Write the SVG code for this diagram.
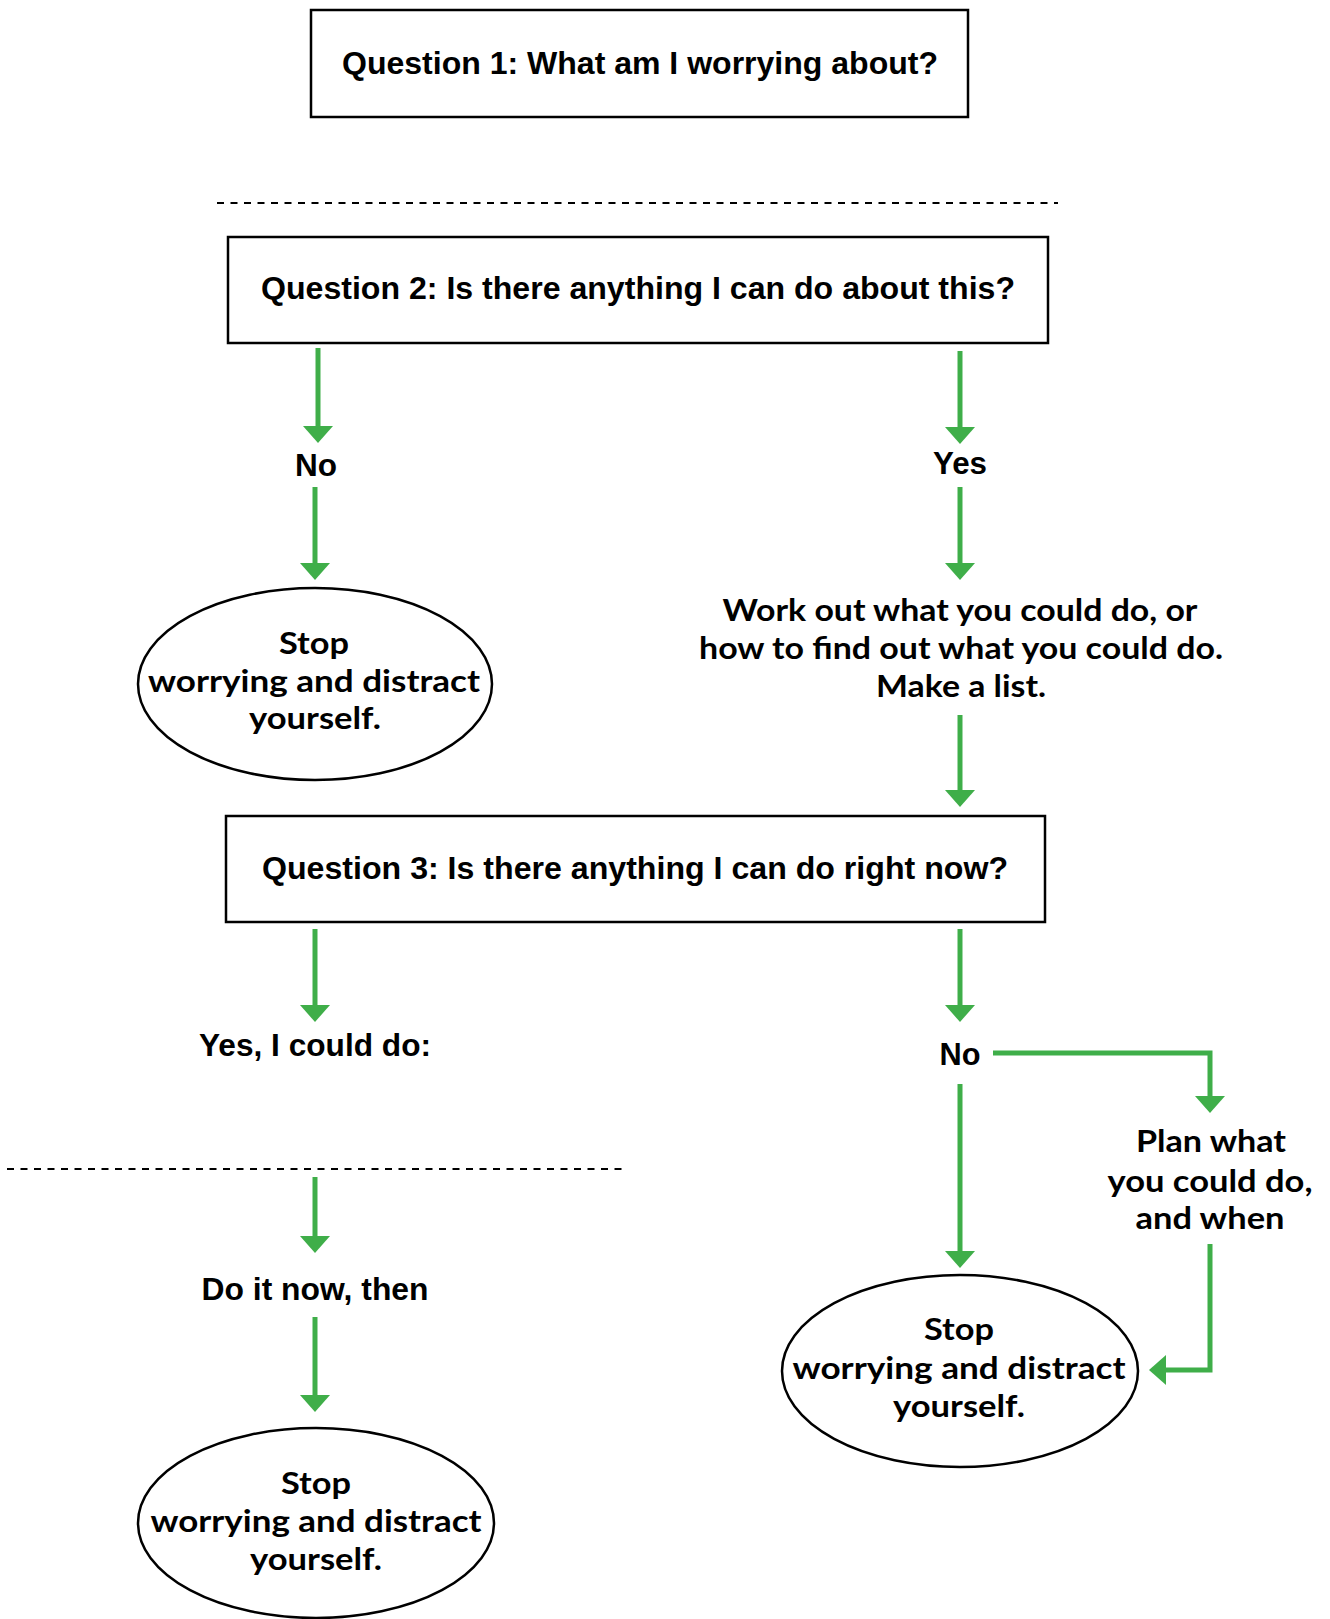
<svg xmlns="http://www.w3.org/2000/svg" width="1330" height="1619" viewBox="0 0 1330 1619">
<defs>
<marker id="ah" viewBox="0 0 17 30" refX="5" refY="15" markerWidth="17" markerHeight="30" orient="auto" markerUnits="userSpaceOnUse">
<path d="M0,0 L17,15 L0,30 z" fill="#3fae49"/>
</marker>
<style>
.box{fill:#fff;stroke:#000;stroke-width:2.5}
.ell{fill:#fff;stroke:#000;stroke-width:2.5}
.dash{stroke:#000;stroke-width:2;stroke-dasharray:7 6.5;fill:none}
.arr{stroke:#3fae49;stroke-width:5;fill:none;marker-end:url(#ah)}
.n{font-family:"Liberation Sans",Arial,sans-serif;font-weight:bold;font-size:32px;fill:#000;text-anchor:middle}
.g{font-family:Lato,"Open Sans",sans-serif;font-weight:bold;font-size:30px;fill:#000;text-anchor:middle}
</style>
</defs>
<rect width="1330" height="1619" fill="#fff"/>
<g id="dividers">
<line class="dash" x1="217" y1="203" x2="1058" y2="203"/>
<line class="dash" x1="7" y1="1169" x2="625" y2="1169"/>
</g>
<g id="connectors">
<path class="arr" d="M318,348 V431"/>
<path class="arr" d="M315,487 V568"/>
<path class="arr" d="M960,351 V432"/>
<path class="arr" d="M960,487 V568"/>
<path class="arr" d="M960,715 V795"/>
<path class="arr" d="M315,929 V1010"/>
<path class="arr" d="M960,929 V1010"/>
<path class="arr" d="M993,1053 H1210 V1101"/>
<path class="arr" d="M960,1084 V1256"/>
<path class="arr" d="M1210,1244 V1370 H1161"/>
<path class="arr" d="M315,1177 V1241"/>
<path class="arr" d="M315,1317 V1400"/>
</g>
<g id="q1">
<rect class="box" x="311" y="10" width="657" height="107"/>
<text class="n" x="640" y="74" textLength="596" lengthAdjust="spacingAndGlyphs">Question 1: What am I worrying about?</text>
</g>
<g id="q2">
<rect class="box" x="228" y="237" width="820" height="106"/>
<text class="n" x="638" y="299" textLength="754" lengthAdjust="spacingAndGlyphs">Question 2: Is there anything I can do about this?</text>
</g>
<g id="no1">
<text class="n" x="316" y="476" textLength="42" lengthAdjust="spacingAndGlyphs">No</text>
</g>
<g id="yes1">
<text class="n" x="960" y="474" textLength="54" lengthAdjust="spacingAndGlyphs">Yes</text>
</g>
<g id="stop1">
<ellipse class="ell" cx="315" cy="684" rx="177" ry="96"/>
<text class="g" x="314" y="654" textLength="70" lengthAdjust="spacingAndGlyphs">Stop</text>
<text class="g" x="314" y="692" textLength="332" lengthAdjust="spacingAndGlyphs">worrying and distract</text>
<text class="g" x="315" y="729" textLength="132" lengthAdjust="spacingAndGlyphs">yourself.</text>
</g>
<g id="workout">
<text class="g" x="960" y="621" textLength="475" lengthAdjust="spacingAndGlyphs">Work out what you could do, or</text>
<text class="g" x="961" y="659" textLength="524" lengthAdjust="spacingAndGlyphs">how to find out what you could do.</text>
<text class="g" x="961" y="697" textLength="170" lengthAdjust="spacingAndGlyphs">Make a list.</text>
</g>
<g id="q3">
<rect class="box" x="226" y="816" width="819" height="106"/>
<text class="n" x="635" y="879" textLength="746" lengthAdjust="spacingAndGlyphs">Question 3: Is there anything I can do right now?</text>
</g>
<g id="yes2">
<text class="n" x="315" y="1056" textLength="232" lengthAdjust="spacingAndGlyphs">Yes, I could do:</text>
</g>
<g id="no2">
<text class="n" x="960" y="1065" textLength="41" lengthAdjust="spacingAndGlyphs">No</text>
</g>
<g id="plan">
<text class="g" x="1211" y="1152" textLength="150" lengthAdjust="spacingAndGlyphs">Plan what</text>
<text class="g" x="1210" y="1192" textLength="205" lengthAdjust="spacingAndGlyphs">you could do,</text>
<text class="g" x="1210" y="1229" textLength="149" lengthAdjust="spacingAndGlyphs">and when</text>
</g>
<g id="stop2">
<ellipse class="ell" cx="960" cy="1371" rx="178" ry="96"/>
<text class="g" x="959" y="1340" textLength="70" lengthAdjust="spacingAndGlyphs">Stop</text>
<text class="g" x="959" y="1379" textLength="333" lengthAdjust="spacingAndGlyphs">worrying and distract</text>
<text class="g" x="959" y="1417" textLength="132" lengthAdjust="spacingAndGlyphs">yourself.</text>
</g>
<g id="doit">
<text class="n" x="315" y="1300" textLength="227" lengthAdjust="spacingAndGlyphs">Do it now, then</text>
</g>
<g id="stop3">
<ellipse class="ell" cx="316" cy="1523" rx="178" ry="95"/>
<text class="g" x="316" y="1494" textLength="70" lengthAdjust="spacingAndGlyphs">Stop</text>
<text class="g" x="316" y="1532" textLength="331" lengthAdjust="spacingAndGlyphs">worrying and distract</text>
<text class="g" x="316" y="1570" textLength="132" lengthAdjust="spacingAndGlyphs">yourself.</text>
</g>
</svg>
